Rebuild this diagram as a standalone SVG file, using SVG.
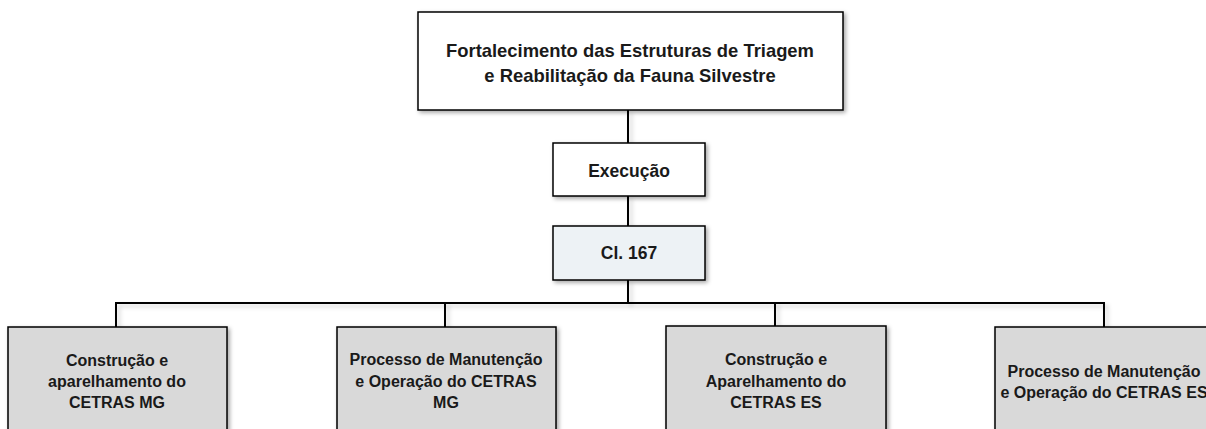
<svg xmlns="http://www.w3.org/2000/svg" width="1206" height="429" viewBox="0 0 1206 429">
  <style>
    .box { stroke: #000; stroke-width: 1.5; filter: url(#shadow); }
    .white { fill: #ffffff; }
    .blue { fill: #edf2f5; }
    .grey { fill: #d9d9d9; }
    .t { font-family: "Liberation Sans", Arial, sans-serif; font-weight: bold; fill: #1a1a1a; text-anchor: middle; }
    .title { font-size: 18.4px; }
    .mid { font-size: 17.5px; }
    .child { font-size: 16px; }
    .conn { fill: none; stroke: #000; stroke-width: 2; filter: url(#lshadow); }
  </style>
  <defs>
    <filter id="shadow" x="-10%" y="-10%" width="130%" height="140%">
      <feDropShadow dx="2" dy="2" stdDeviation="2" flood-color="#000" flood-opacity="0.35"/>
    </filter>
    <filter id="lshadow" filterUnits="userSpaceOnUse" x="0" y="0" width="1206" height="429">
      <feDropShadow dx="3" dy="3" stdDeviation="2" flood-color="#000" flood-opacity="0.2"/>
    </filter>
  </defs>
  <rect width="1206" height="429" fill="#ffffff"/>
  <g id="connectors">
    <path class="conn" d="M628 110 V143"/>
    <path class="conn" d="M628 196 V226"/>
    <path class="conn" d="M628 280 V303"/>
    <path class="conn" d="M116 327 V303 H1104 V327"/>
    <path class="conn" d="M445 303 V327"/>
    <path class="conn" d="M775 303 V327"/>
  </g>
  <g id="node-title">
    <rect class="box white" x="418" y="12" width="425" height="98"/>
    <text class="t title" x="630" y="57">Fortalecimento das Estruturas de Triagem</text>
    <text class="t title" x="630" y="82">e Reabilitação da Fauna Silvestre</text>
  </g>
  <g id="node-execucao">
    <rect class="box white" x="553" y="143" width="152" height="53"/>
    <text class="t mid" x="629" y="177">Execução</text>
  </g>
  <g id="node-cl167">
    <rect class="box blue" x="553" y="226" width="152" height="54"/>
    <text class="t mid" x="629" y="259">Cl. 167</text>
  </g>
  <g id="node-mg-construcao">
    <rect class="box grey" x="8" y="327" width="219" height="110"/>
    <text class="t child" x="117" y="366">Construção e</text>
    <text class="t child" x="117" y="387">aparelhamento do</text>
    <text class="t child" x="117" y="408">CETRAS MG</text>
  </g>
  <g id="node-mg-manutencao">
    <rect class="box grey" x="337" y="327" width="219" height="110"/>
    <text class="t child" x="446" y="365">Processo de Manutenção</text>
    <text class="t child" x="446" y="387">e Operação do CETRAS</text>
    <text class="t child" x="446" y="408">MG</text>
  </g>
  <g id="node-es-construcao">
    <rect class="box grey" x="666" y="326" width="220" height="111"/>
    <text class="t child" x="776" y="365">Construção e</text>
    <text class="t child" x="776" y="387">Aparelhamento do</text>
    <text class="t child" x="776" y="408">CETRAS ES</text>
  </g>
  <g id="node-es-manutencao">
    <rect class="box grey" x="995" y="327" width="219" height="110"/>
    <text class="t child" x="1104" y="377">Processo de Manutenção</text>
    <text class="t child" x="1104" y="398">e Operação do CETRAS ES</text>
  </g>
</svg>
